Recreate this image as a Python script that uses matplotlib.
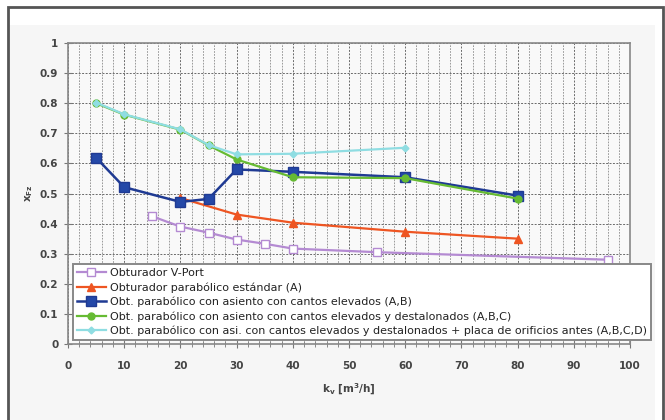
import numpy as np
import matplotlib.pyplot as plt
from matplotlib.patches import Rectangle
from matplotlib.ticker import MultipleLocator

# Datos
labels = ['Obturador V-Port',
          'Obturador parabólico estándar (A)',
          'Obt. parabólico con asiento con cantos elevados (A,B)',
          'Obt. parabólico con asiento con cantos elevados y destalonados (A,B,C)',
          'Obt. parabólico con asi. con cantos elevados y destalonados + placa de orificios antes (A,B,C,D)']

kv_vport = [15, 20, 25, 30, 35, 40, 55, 96]
x_vport = [0.424, 0.39, 0.37, 0.347, 0.333, 0.317, 0.305, 0.28]

kv_std = [20, 30, 40, 60, 80]
x_std = [0.485, 0.43, 0.403, 0.373, 0.35]

kv_ab = [5, 10, 20, 25, 30, 40, 60, 80]
x_ab = [0.619, 0.521, 0.472, 0.482, 0.58, 0.572, 0.554, 0.493]

kv_abc = [5, 10, 20, 25, 30, 40, 60, 80]
x_abc = [0.80, 0.762, 0.712, 0.66, 0.613, 0.554, 0.551, 0.483]

kv_abcd = [5, 10, 20, 25, 30, 40, 60]
x_abcd = [0.802, 0.763, 0.713, 0.661, 0.63, 0.632, 0.652]

fig = plt.figure(figsize=(6.65, 4.2), dpi=100)
fig.patch.set_facecolor('white')

# Marco exterior
W, H = 665.0, 420.0
fig.patches.append(Rectangle((8 / W, 0), 647 / W, 1 - 7 / H - 18 / H,
                             transform=fig.transFigure, facecolor='#f6f6f6',
                             edgecolor='none', zorder=-2))
fig.patches.append(Rectangle((8 / W, -0.01), 655 / W, 1 - 7 / H + 0.01,
                             transform=fig.transFigure, facecolor='none',
                             edgecolor='#555555', linewidth=2.0, zorder=-1))

ax = fig.add_axes([68 / W, 1 - 344 / H, 562 / W, 301 / H])
ax.set_facecolor('#f9f9f9')

ax.plot(kv_vport, x_vport, color='#b48ad2', marker='s', markersize=5.5,
        markerfacecolor='white', markeredgecolor='#b48ad2', linewidth=1.6,
        label=labels[0])
ax.plot(kv_std, x_std, color='#ee5522', marker='^', markersize=5.5,
        linewidth=1.6, label=labels[1])
ax.plot(kv_ab, x_ab, color='#1f3a93', marker='s', markersize=7,
        markerfacecolor='#2448a8', linewidth=1.8, label=labels[2])
ax.plot(kv_abc, x_abc, color='#66bb33', marker='o', markersize=5,
        linewidth=1.6, label=labels[3])
ax.plot(kv_abcd, x_abcd, color='#8fdde2', marker='D', markersize=3.5,
        linewidth=1.6, label=labels[4])

ax.set_xlim(0, 100)
ax.set_ylim(0, 1)
ax.xaxis.set_major_locator(MultipleLocator(10))
ax.xaxis.set_minor_locator(MultipleLocator(2))
ax.set_yticks(np.arange(0, 1.01, 0.1))
ax.set_yticklabels(['0'] + ['%.1f' % v for v in np.arange(0.1, 0.95, 0.1)] + ['1'])

ax.grid(which='major', color='#6a6a6a', linestyle=(0, (2, 1.5)), linewidth=0.7)
ax.grid(which='minor', axis='x', color='#8a8a8a', linestyle=(0, (2, 1.5)), linewidth=0.6)
ax.set_axisbelow(True)

ax.tick_params(which='major', direction='inout', length=6, width=0.8,
               color='#777777', labelsize=7.5, labelcolor='#444444')
ax.tick_params(axis='x', which='major', pad=9)
ax.tick_params(axis='y', which='major', pad=4)
ax.tick_params(which='minor', direction='inout', length=4, width=0.6,
               color='#777777')
for lab in ax.get_xticklabels() + ax.get_yticklabels():
    lab.set_fontweight('bold')
for sp in ax.spines.values():
    sp.set_color('#888888')
    sp.set_linewidth(1.2)

ax.set_xlabel(r'$\mathbf{k_v}$ [m$^\mathbf{3}$/h]', fontsize=7.5,
              fontweight='bold', color='#444444', labelpad=8)
ax.set_ylabel(r'$\mathbf{x_{Fz}}$', fontsize=7.5, color='#444444', labelpad=3)

leg = ax.legend(loc='lower left', bbox_to_anchor=(0.009, 0.013),
                borderaxespad=0, fontsize=8, handlelength=2.6,
                handletextpad=0.4, labelspacing=0.36, borderpad=0.35,
                fancybox=False, framealpha=1, edgecolor='#888888')
leg.get_frame().set_linewidth(1.4)
for t in leg.get_texts():
    t.set_color('#222222')

fig.savefig('out.png', dpi=100)
